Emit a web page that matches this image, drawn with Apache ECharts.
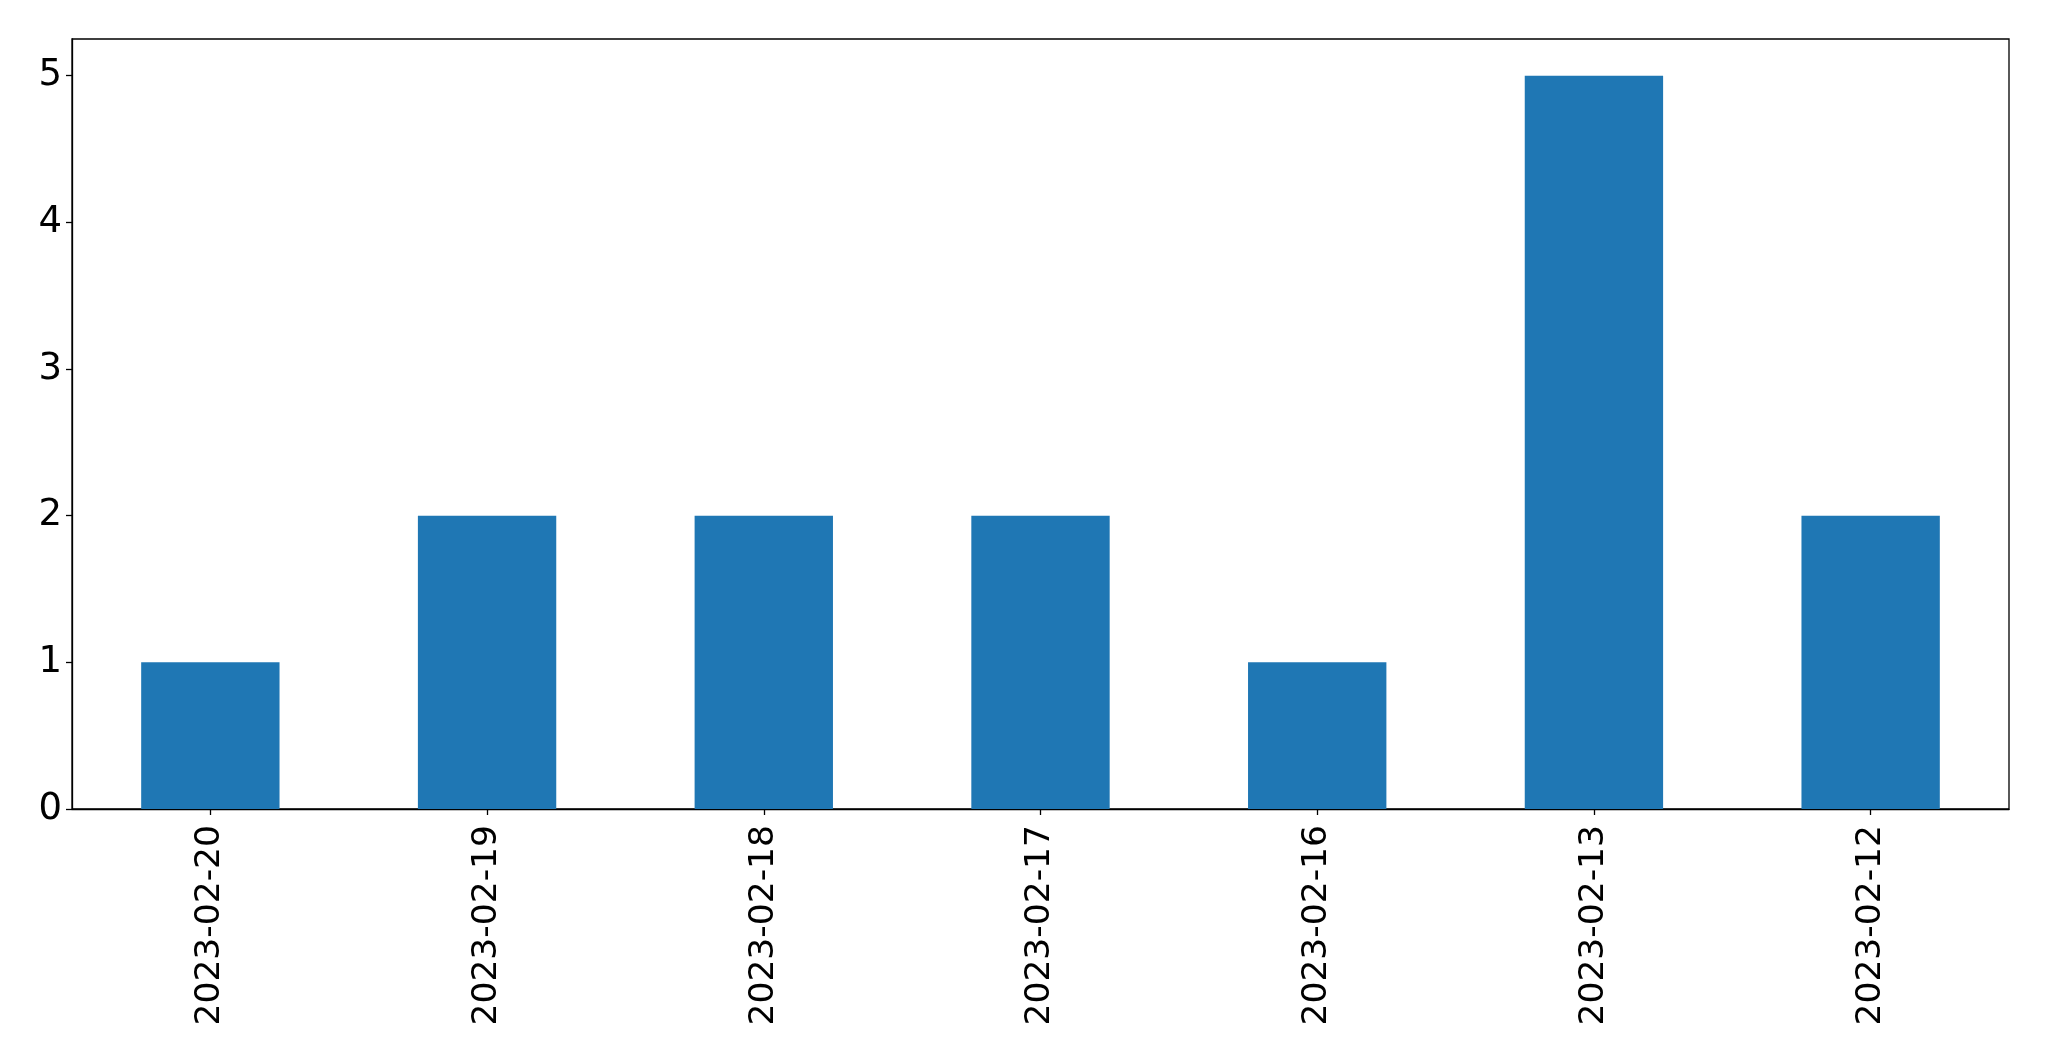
<!DOCTYPE html>
<html>
<head>
<meta charset="utf-8">
<script src="https://cdn.jsdelivr.net/npm/echarts@6/dist/echarts.min.js"></script>
<style>
html,body{margin:0;padding:0;background:#fff;}
#c{width:2049px;height:1061px;}
</style>
</head>
<body>
<div id="c"></div>
<script>
const categories = ['2023-02-20','2023-02-19','2023-02-18','2023-02-17','2023-02-16','2023-02-13','2023-02-12'];
const values = [1, 2, 2, 2, 1, 5, 2];
const yTicks = [0, 1, 2, 3, 4, 5];

const chart = echarts.init(document.getElementById('c'), null, {renderer: 'canvas'});
const font = 'DejaVu Sans';
chart.setOption({
  animation: false,
  backgroundColor: '#fff',
  grid: {left: 72, right: 40, top: 39, bottom: 252, show: true, borderColor: '#000', borderWidth: 1.3, containLabel: false},
  xAxis: {
    type: 'category',
    data: categories,
    boundaryGap: true,
    axisLine: {show: true, lineStyle: {color: '#000', width: 1.3}},
    axisTick: {show: true, alignWithLabel: true, length: 6, lineStyle: {color: '#000', width: 1.3}},
    axisLabel: {rotate: 90, margin: 16, fontSize: 34.5, fontFamily: font, color: '#000', interval: 0},
    splitLine: {show: false}
  },
  yAxis: {
    type: 'value',
    min: 0, max: 5.25,
    axisLine: {show: true, lineStyle: {color: '#000', width: 1.3}},
    axisTick: {show: true, length: 6, lineStyle: {color: '#000', width: 1.3}, customValues: yTicks},
    axisLabel: {margin: 10, fontSize: 37, fontFamily: font, color: '#000', customValues: yTicks},
    splitLine: {show: false}
  },
  series: [{
    type: 'bar',
    data: values,
    barWidth: '50%',
    itemStyle: {color: '#1f77b4'}
  }]
});
</script>
</body>
</html>
